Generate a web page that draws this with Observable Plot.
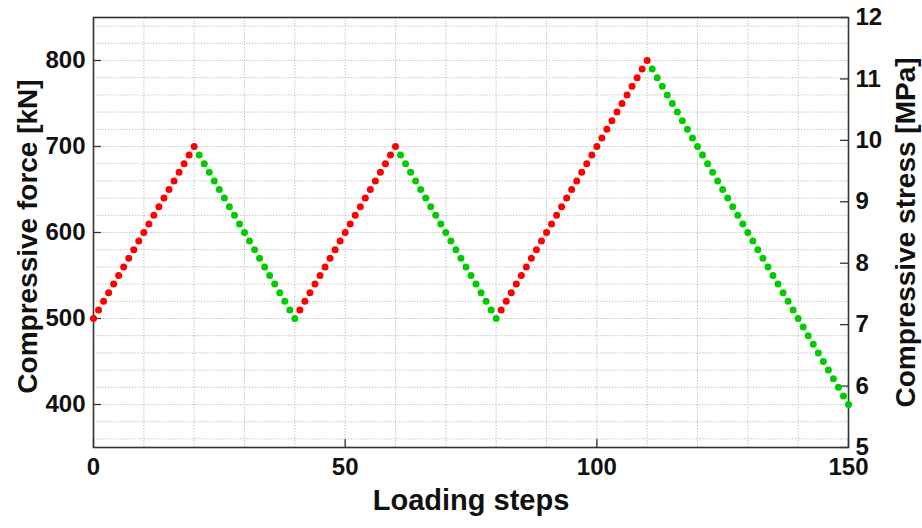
<!DOCTYPE html>
<html>
<head>
<meta charset="utf-8">
<script src="https://cdn.jsdelivr.net/npm/d3@7"></script>
<script src="https://cdn.jsdelivr.net/npm/@observablehq/plot@0.6"></script>
<style>
  html, body { margin: 0; padding: 0; background: #fff; }
  #chart svg { display: block; }
</style>
</head>
<body>
<div id="chart"></div>
<script>
// Compressive force applied at each loading step [kN]
const force = [
  500,510,520,530,540,550,560,570,580,590,600,610,620,630,640,650,660,670,680,690,700,
  690,680,670,660,650,640,630,620,610,600,590,580,570,560,550,540,530,520,510,500,
  510,520,530,540,550,560,570,580,590,600,610,620,630,640,650,660,670,680,690,700,
  690,680,670,660,650,640,630,620,610,600,590,580,570,560,550,540,530,520,510,500,
  510,520,530,540,550,560,570,580,590,600,610,620,630,640,650,660,670,680,690,700,
  710,720,730,740,750,760,770,780,790,800,
  790,780,770,760,750,740,730,720,710,700,690,680,670,660,650,640,630,620,610,600,
  590,580,570,560,550,540,530,520,510,500,490,480,470,460,450,440,430,420,410,400
];

// Axis ticks and grid lines
const stepTicks = [0, 50, 100, 150];
const stepGrid = [10, 20, 30, 40, 50, 60, 70, 80, 90, 100, 110, 120, 130, 140];
const forceTicks = [400, 500, 600, 700, 800];
const forceGrid = [360, 380, 400, 420, 440, 460, 480, 500, 520, 540, 560, 580, 600,
                   620, 640, 660, 680, 700, 720, 740, 760, 780, 800, 820, 840];
const stressTicks = [5, 6, 7, 8, 9, 10, 11, 12];

const forceDomain = [350, 850];
const stressDomain = [5, 12];

// the right-hand stress axis shares the vertical extent of the force axis
const stressToForce = d3.scaleLinear().domain(stressDomain).range(forceDomain);

const points = force.map((f, i) => ({
  step: i,
  force: f,
  phase: i === 0 || f > force[i - 1] ? "loading" : "unloading"
}));

const font = "'Liberation Sans', Arial, Helvetica, sans-serif";
const ink = "#111";
const tickLen = 8;
const W = 922, H = 528, mL = 93, mR = 74, mT = 17, mB = 81;
const innerW = W - mL - mR, innerH = H - mT - mB;
const gridStyle = { stroke: "#c4c4c4", strokeOpacity: 1, strokeWidth: 1, strokeDasharray: "1.5,1.5" };

const chart = Plot.plot({
  width: W,
  height: H,
  marginLeft: mL,
  marginRight: mR,
  marginTop: mT,
  marginBottom: mB,
  style: { fontFamily: font, background: "#fff", overflow: "visible" },
  x: { domain: [0, 150], axis: null },
  y: { domain: forceDomain, axis: null },
  color: { domain: ["loading", "unloading"], range: ["#ff0000", "#00cc00"] },
  marks: [
    Plot.gridX(stepGrid, gridStyle),
    Plot.gridY(forceGrid, gridStyle),
    Plot.frame({ stroke: "#333", strokeWidth: 1.6 }),
    // inward tick marks
    Plot.tickX(stepTicks, { x: d => d, insetTop: innerH - tickLen, stroke: "#333", strokeWidth: 1.3 }),
    Plot.tickY(forceTicks, { y: d => d, insetRight: innerW - tickLen, stroke: "#333", strokeWidth: 1.3 }),
    Plot.tickY(stressTicks, { y: s => stressToForce(s), insetLeft: innerW - tickLen, stroke: "#333", strokeWidth: 1.3 }),
    // tick labels
    Plot.text(stepTicks, { x: d => d, frameAnchor: "bottom", dy: 27, fontSize: 24, fontWeight: "bold", fill: ink }),
    Plot.text(forceTicks, { y: d => d, frameAnchor: "left", dx: -8, textAnchor: "end", fontSize: 24, fontWeight: "bold", fill: ink }),
    Plot.text(stressTicks, { y: s => stressToForce(s), frameAnchor: "right", dx: 7, textAnchor: "start", fontSize: 24, fontWeight: "bold", fill: ink }),
    // axis titles
    Plot.text(["Loading steps"], { frameAnchor: "bottom", dy: 62, textAnchor: "middle", fontSize: 29, fontWeight: "bold", fill: ink }),
    Plot.text(["Compressive force [kN]"], { frameAnchor: "left", dx: -65, dy: 4, textAnchor: "middle", rotate: -90, fontSize: 28, fontWeight: "bold", fill: ink }),
    Plot.text(["Compressive stress [MPa]"], { frameAnchor: "right", dx: 58, dy: 0, textAnchor: "middle", rotate: -90, fontSize: 28, fontWeight: "bold", fill: ink }),
    // measured points
    Plot.dot(points, { x: "step", y: "force", fill: "phase", r: 3.5, stroke: "none" })
  ]
});

document.getElementById("chart").appendChild(chart);
</script>
</body>
</html>
